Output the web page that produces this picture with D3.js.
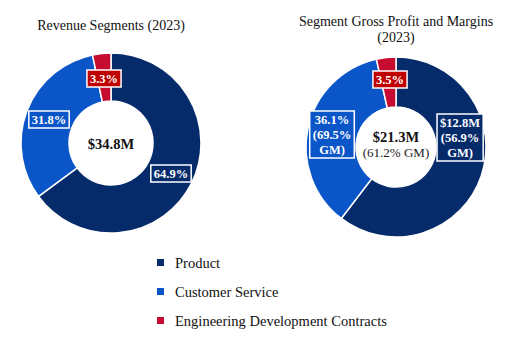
<!DOCTYPE html>
<html>
<head>
<meta charset="utf-8">
<script src="https://cdn.jsdelivr.net/npm/d3@7"></script>
<style>
  body { margin: 0; background: #fff; }
  svg { font-family: "Liberation Serif", "Times New Roman", serif; }
</style>
</head>
<body>
<div id="chart"></div>
<script>
// Data
var segments = ["Product", "Customer Service", "Engineering Development Contracts"];
var revenueShare = [64.9, 31.8, 3.3];
var profitShare = [60.4, 36.1, 3.5];
var revenueLabels = [["64.9%"], ["31.8%"], ["3.3%"]];
var profitLabels = [["$12.8M", "(56.9%", "GM)"], ["36.1%", "(69.5%", "GM)"], ["3.5%"]];
var colors = ["#062b6b", "#0a55c8", "#c60c30"];
var labelFills = ["#062b6b", "#0a55c8", "#c00000"];

var svgWidth = 506;
var svgHeight = 337;

var svg = d3.select("#chart")
  .append("svg")
  .attr("width", svgWidth)
  .attr("height", svgHeight);

var pie = d3.pie().sort(null).value(d => d);

// draws one donut with boxed labels
function drawDonut(opts) {
  var g = svg.append("g")
    .attr("transform", `translate(${opts.cx}, ${opts.cy})`);

  var arc = d3.arc().innerRadius(opts.inner).outerRadius(opts.outer);

  g.selectAll("path")
    .data(pie(opts.values))
    .enter()
    .append("path")
    .attr("d", arc)
    .attr("fill", (d, i) => colors[i])
    .attr("stroke", "#fff")
    .attr("stroke-width", 1.5);

  // labels, placed at given offsets from centre
  opts.labels.forEach(function(lines, i) {
    var pos = opts.labelPos[i];
    var lg = g.append("g").attr("transform", `translate(${pos[0]}, ${pos[1]})`);
    var lh = 15;
    var txt = lg.append("text")
      .attr("text-anchor", "middle")
      .attr("fill", "#fff")
      .attr("font-weight", "bold")
      .attr("font-size", 12.5);
    lines.forEach(function(l, k) {
      txt.append("tspan")
        .attr("x", 0)
        .attr("y", (k - (lines.length - 1) / 2) * lh + 4.5)
        .text(l);
    });
    var bb = txt.node().getBBox();
    lg.insert("rect", "text")
      .attr("x", bb.x - 3)
      .attr("y", bb.y - 1.5)
      .attr("width", bb.width + 6)
      .attr("height", bb.height + 3)
      .attr("fill", labelFills[i])
      .attr("stroke", "#fff")
      .attr("stroke-width", 1.5);
  });

  // titles
  opts.title.forEach(function(t, k) {
    svg.append("text")
      .attr("x", opts.cx)
      .attr("y", opts.titleY + k * 16)
      .attr("text-anchor", "middle")
      .attr("font-size", 14)
      .attr("fill", "#111")
      .text(t);
  });

  // centre text
  g.append("text")
    .attr("text-anchor", "middle")
    .attr("y", opts.centerY)
    .attr("font-size", 14.5)
    .attr("font-weight", "bold")
    .attr("fill", "#111")
    .text(opts.center);
  if (opts.sub) {
    g.append("text")
      .attr("text-anchor", "middle")
      .attr("y", opts.centerY + 15)
      .attr("font-size", 13)
      .attr("fill", "#222")
      .text(opts.sub);
  }
}

drawDonut({
  cx: 111, cy: 143, outer: 90, inner: 42,
  values: revenueShare,
  labels: revenueLabels,
  labelPos: [[60, 30], [-62, -24], [-7, -65]],
  title: ["Revenue Segments (2023)"],
  titleY: 30,
  center: "$34.8M", centerY: 6
});

drawDonut({
  cx: 396, cy: 147, outer: 90, inner: 40,
  values: profitShare,
  labels: profitLabels,
  labelPos: [[64, -10], [-64, -13], [-6, -68]],
  title: ["Segment Gross Profit and Margins", "(2023)"],
  titleY: 26,
  center: "$21.3M", centerY: -5, sub: "(61.2% GM)"
});

// legend
var legend = svg.append("g").attr("transform", "translate(157, 263)");
segments.forEach(function(s, i) {
  var row = legend.append("g").attr("transform", `translate(0, ${i * 29})`);
  row.append("rect")
    .attr("x", 0).attr("y", -4)
    .attr("width", 7).attr("height", 7)
    .attr("fill", colors[i]);
  row.append("text")
    .attr("x", 18).attr("y", 4.5)
    .attr("font-size", 14.5)
    .attr("fill", "#111")
    .text(s);
});
</script>
</body>
</html>
